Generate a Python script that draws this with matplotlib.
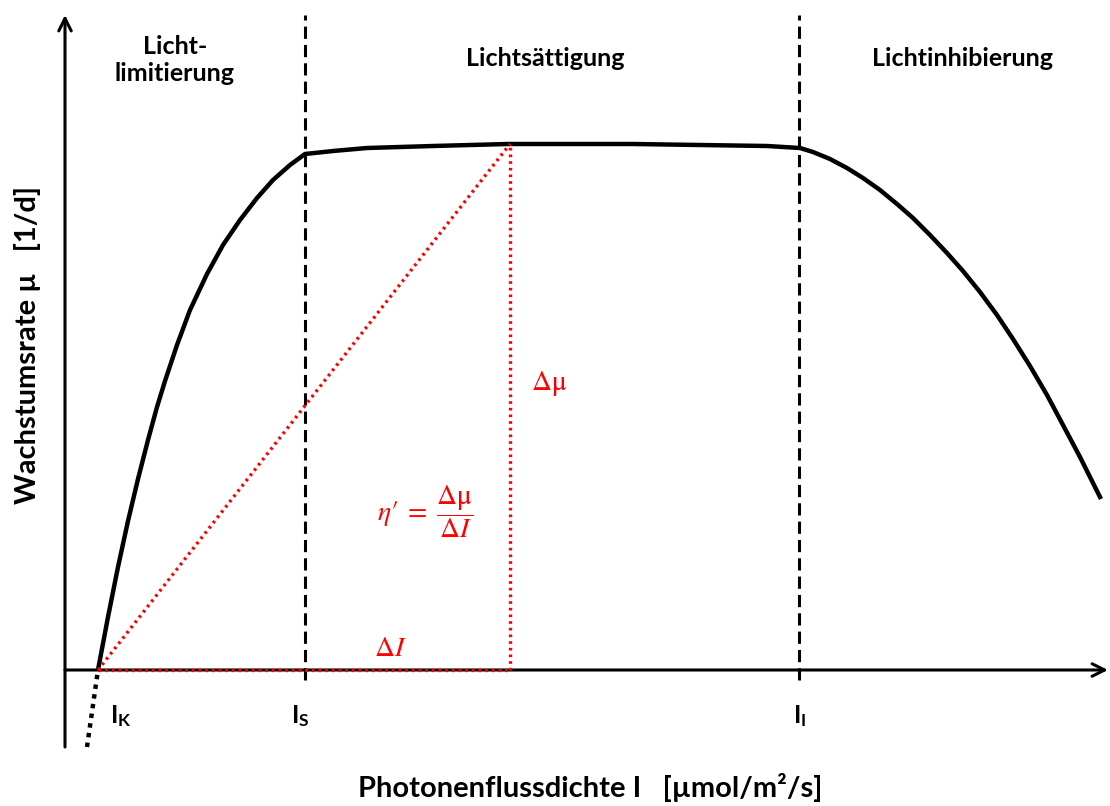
import matplotlib.pyplot as plt

# Schematische Wachstumskurve (Einheiten willkürlich, Achsenursprung = 0)
I_kurve = [33, 43, 53, 63, 73, 83, 92, 100, 112, 125, 142, 158, 175, 192, 208, 225, 240,
           268, 302, 368, 443, 502, 568, 635, 702, 735,
           748, 765, 782, 798, 815, 832, 848, 865, 882, 898, 915, 932, 948, 965, 982, 998,
           1015, 1036]
mu_kurve = [0, 53, 103, 149, 191, 230, 263, 289, 325, 360, 396, 425, 450, 472, 490, 505, 516,
            519, 522, 524, 526, 526, 526, 525, 524, 522,
            518, 511, 502, 492, 480, 466, 452, 435, 417, 399, 378, 355, 331, 304, 275, 245,
            213, 171]

# Extrapolation unter die Abszisse
I_extra = [22, 33]
mu_extra = [-77, 0]

# Kennpunkte
I_K, I_S, I_I = 33, 240, 734
I_max, mu_max = 445, 526

x_max, y_max = 1043, 655
y_min = -77

plt.rcParams["mathtext.fontset"] = "stix"

fig = plt.figure(figsize=(11.10, 8.06), dpi=100)
ax = fig.add_axes([0, 0, 1, 1])
ax.set_xlim(-65, 1045)
ax.set_ylim(-136, 670)
ax.axis("off")

schrift = "Lato"

# Achsen mit Pfeilen
pfeil = dict(arrowstyle="->,head_length=0.9,head_width=0.45", lw=2.2, color="black",
             shrinkA=0, shrinkB=0)
ax.annotate("", xy=(0, y_max), xytext=(0, y_min), arrowprops=pfeil)
ax.annotate("", xy=(x_max, 0), xytext=(0, 0), arrowprops=pfeil)

# Bereichsgrenzen
for xi in [I_S, I_I]:
    ax.plot([xi, xi], [-10, y_max], color="black", lw=2.2, ls=(0, (4, 2)))

# Kurve
ax.plot(I_kurve, mu_kurve, color="black", lw=3.2, solid_capstyle="butt", solid_joinstyle="round")
ax.plot(I_extra, mu_extra, color="black", lw=3.2, ls=(0, (1, 1.2)))

# Dreieck für die Steigung
rot = "#ff0000"
punkt = dict(color=rot, lw=2.4, ls=(0, (0.8, 1.2)), zorder=5)
ax.plot([I_K, I_max], [0, mu_max], **punkt)
ax.plot([I_max, I_max], [0, mu_max], **punkt)
ax.plot([I_K, I_max], [0, 0], **punkt)

ax.text(466, 287, r"$\Delta\mathrm{\mu}$", color=rot, fontsize=20, ha="left", va="center")
ax.text(360, 158, r"$\eta′\;=\;\dfrac{\Delta\mathrm{\mu}}{\Delta I}$", color=rot, fontsize=20,
        ha="center", va="center")
ax.text(325, 22, r"$\Delta I$", color=rot, fontsize=20, ha="center", va="center")

# Beschriftungen der Kennpunkte
for xi, txt in [(I_K + 23, r"I$_\mathregular{K}$"), (I_S - 5, r"I$_\mathregular{S}$"),
                (I_I + 1, r"I$_\mathregular{I}$")]:
    ax.text(xi, -46, txt, fontsize=18, fontweight="bold", family=schrift, ha="center", va="center")

# Bereiche
ax.text(110, 610, "Licht-\nlimitierung", fontsize=18, fontweight="bold", family=schrift,
        ha="center", va="center", linespacing=1.25)
ax.text(480, 612, "Lichtsättigung", fontsize=18, fontweight="bold", family=schrift,
        ha="center", va="center")
ax.text(897, 612, "Lichtinhibierung", fontsize=18, fontweight="bold", family=schrift,
        ha="center", va="center")

# Achsentitel
ax.text(525, -118, "Photonenflussdichte I   [µmol/m²/s]", fontsize=21, fontweight="bold",
        family=schrift, ha="center", va="center")
ax.text(-37, 325, "Wachstumsrate µ   [1/d]", fontsize=21, fontweight="bold", family=schrift,
        ha="center", va="center", rotation=90)

plt.savefig("out.png", dpi=100)
